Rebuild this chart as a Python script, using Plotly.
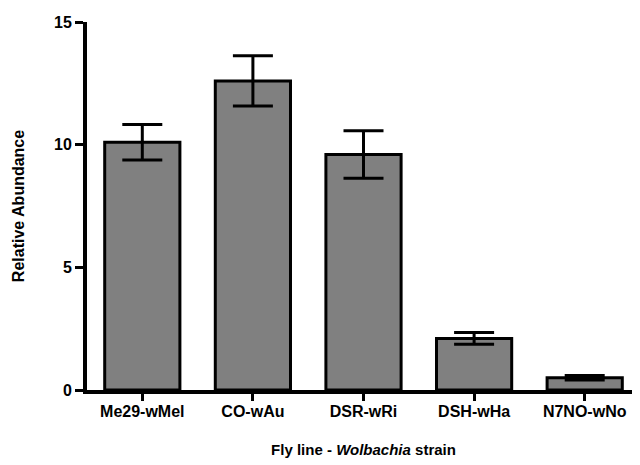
import plotly.graph_objects as go

categories = ["Me29-wMel", "CO-wAu", "DSR-wRi", "DSH-wHa", "N7NO-wNo"]
abundance = [10.1, 12.6, 9.6, 2.1, 0.5]
errors = [0.72, 1.02, 0.97, 0.24, 0.09]
y_ticks = [0, 5, 10, 15]

fig = go.Figure()
fig.add_trace(go.Bar(
    x=categories,
    y=abundance,
    marker=dict(color="#808080", line=dict(color="black", width=3)),
    error_y=dict(type="data", array=errors, visible=True, color="black", thickness=3, width=20),
    width=0.68,
))

fam = "Liberation Sans, Arial, sans-serif"
# page body has an 8px default margin, so the figure is sized/offset to compensate
fig.update_layout(
    width=632, height=457,
    margin=dict(l=79, r=0, t=14, b=75),
    plot_bgcolor="white", paper_bgcolor="white",
    showlegend=False,
    font=dict(family=fam, color="black"),
)
fig.update_xaxes(
    range=[-0.5, 4.5],
    automargin=False,
    showline=True, linecolor="black", linewidth=4,
    ticks="outside", ticklen=7, tickwidth=3, tickcolor="black",
    ticklabelstandoff=-3,
    tickfont=dict(size=16, family=fam, color="black", weight="bold"),
    title=dict(text="Fly line - <i>Wolbachia</i> strain",
               font=dict(size=15, family=fam, color="black", weight="bold"),
               standoff=26),
    showgrid=False,
)
fig.update_yaxes(
    range=[0, 15],
    automargin=False,
    tickvals=y_ticks,
    showline=True, linecolor="black", linewidth=4,
    ticks="outside", ticklen=8, tickwidth=3, tickcolor="black",
    tickfont=dict(size=16, family=fam, color="black", weight="bold"),
    title=dict(text="Relative Abundance",
               font=dict(size=16, family=fam, color="black", weight="bold"),
               standoff=26),
    showgrid=False, zeroline=False,
)

fig.write_html("out.html")
